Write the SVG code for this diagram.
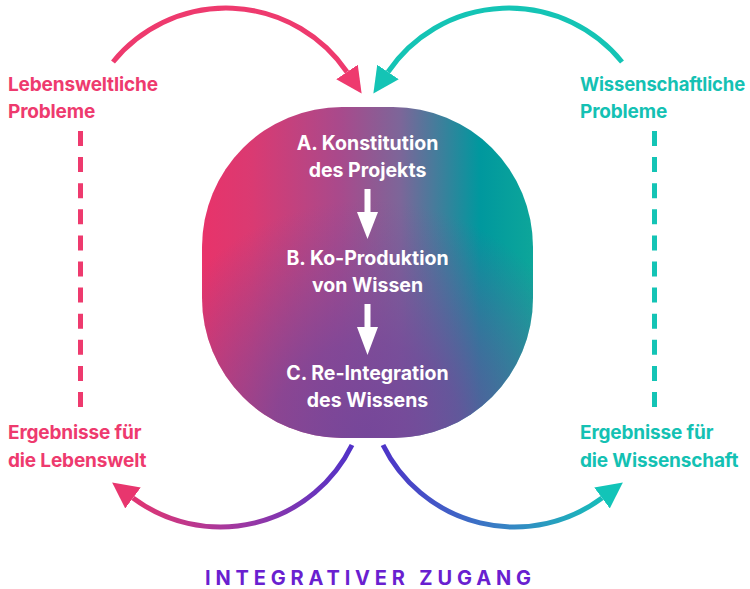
<svg xmlns="http://www.w3.org/2000/svg" width="750" height="589" viewBox="0 0 750 589">
<defs>
<style>
text{font-family:Inter,"Liberation Sans",sans-serif;font-weight:700;}
.lbl{font-size:19px;letter-spacing:-0.15px;}
.pink{fill:#ee3a6e;}
.teal{fill:#14c1b3;}
.ctr{font-size:19.5px;fill:#ffffff;text-anchor:middle;}
.arc{fill:none;stroke-width:5;}
.dash{fill:none;stroke-width:5;stroke-dasharray:15 11.1;}
</style>
<linearGradient id="gBase" x1="0" y1="0" x2="1" y2="0">
<stop offset="0" stop-color="#e8336a"/>
<stop offset="0.15" stop-color="#da3a72"/>
<stop offset="0.42" stop-color="#a84a8c"/>
<stop offset="0.6" stop-color="#7c6699"/>
<stop offset="0.84" stop-color="#00989e"/>
<stop offset="1" stop-color="#0da69a"/>
</linearGradient>
<radialGradient id="gGlow" cx="0.5" cy="1" r="0.72">
<stop offset="0" stop-color="#74469a" stop-opacity="0.95"/>
<stop offset="0.4" stop-color="#76479a" stop-opacity="0.75"/>
<stop offset="1" stop-color="#7a4a98" stop-opacity="0"/>
</radialGradient>
<linearGradient id="gLeft" gradientUnits="userSpaceOnUse" x1="120" y1="0" x2="352" y2="0">
<stop offset="0" stop-color="#e8356c"/>
<stop offset="0.45" stop-color="#a8389c"/>
<stop offset="1" stop-color="#5232c8"/>
</linearGradient>
<linearGradient id="gRight" gradientUnits="userSpaceOnUse" x1="383" y1="0" x2="615" y2="0">
<stop offset="0" stop-color="#4d34c8"/>
<stop offset="0.55" stop-color="#3586c4"/>
<stop offset="1" stop-color="#12c4b8"/>
</linearGradient>
<marker id="mPink" markerUnits="userSpaceOnUse" markerWidth="26" markerHeight="26" viewBox="0 0 26 26" refX="0" refY="13" orient="auto">
<path d="M0,0 L26,13 L0,26 Z" fill="#ee3a6e"/>
</marker>
<marker id="mTeal" markerUnits="userSpaceOnUse" markerWidth="26" markerHeight="26" viewBox="0 0 26 26" refX="0" refY="13" orient="auto">
<path d="M0,0 L26,13 L0,26 Z" fill="#14c4b5"/>
</marker>
<marker id="mPink2" markerUnits="userSpaceOnUse" markerWidth="26" markerHeight="26" viewBox="0 0 26 26" refX="0" refY="13" orient="auto">
<path d="M0,0 L26,13 L0,26 Z" fill="#e8366e"/>
</marker>
<marker id="mTeal2" markerUnits="userSpaceOnUse" markerWidth="26" markerHeight="26" viewBox="0 0 26 26" refX="0" refY="13" orient="auto">
<path d="M0,0 L26,13 L0,26 Z" fill="#12c4b8"/>
</marker>
</defs>

<g id="process">
<rect x="202" y="107" width="331" height="331" rx="140" ry="140" fill="url(#gBase)"/>
<rect x="202" y="107" width="331" height="331" rx="140" ry="140" fill="url(#gGlow)"/>
<text class="ctr" x="367.5" y="150">A. Konstitution</text>
<text class="ctr" x="367.5" y="177">des Projekts</text>
<text class="ctr" x="367.5" y="265">B. Ko-Produktion</text>
<text class="ctr" x="367.5" y="292">von Wissen</text>
<text class="ctr" x="367.5" y="380">C. Re-Integration</text>
<text class="ctr" x="367.5" y="407">des Wissens</text>
</g>

<g id="lebensweltliche-probleme">
<text class="lbl pink" x="8" y="91">Lebensweltliche</text>
<text class="lbl pink" x="8" y="118">Probleme</text>
</g>
<g id="wissenschaftliche-probleme">
<text class="lbl teal" x="580" y="91" textLength="165" lengthAdjust="spacingAndGlyphs">Wissenschaftliche</text>
<text class="lbl teal" x="580" y="118">Probleme</text>
</g>
<g id="ergebnisse-lebenswelt">
<text class="lbl pink" x="8" y="439">Ergebnisse für</text>
<text class="lbl pink" x="8" y="467">die Lebenswelt</text>
</g>
<g id="ergebnisse-wissenschaft">
<text class="lbl teal" x="580" y="439">Ergebnisse für</text>
<text class="lbl teal" x="580" y="467">die Wissenschaft</text>
</g>

<g id="connectors">
<path class="arc" stroke="#ee3a6e" d="M113,62 A146,146 0 0 1 347,72" marker-end="url(#mPink)"/>
<path class="arc" stroke="#14c4b5" d="M622,62 A146,146 0 0 0 388,72" marker-end="url(#mTeal)"/>
<path class="dash" stroke="#ee3a6e" d="M80.5,131 V408"/>
<path class="dash" stroke="#14c4b5" d="M654.5,131 V408"/>
<path class="arc" stroke="url(#gLeft)" d="M352,445 A146.5,146.5 0 0 1 133,498" marker-end="url(#mPink2)"/>
<path class="arc" stroke="url(#gRight)" d="M383,445 A146.5,146.5 0 0 0 602,498" marker-end="url(#mTeal2)"/>
<rect x="364.5" y="189" width="6" height="24" fill="#ffffff"/>
<polygon points="357,212 378,212 367.5,239" fill="#ffffff"/>
<rect x="364.5" y="304" width="6" height="24" fill="#ffffff"/>
<polygon points="357,327 378,327 367.5,355" fill="#ffffff"/>
</g>

<g id="title">
<text x="205" y="585" font-size="20" font-weight="800" fill="#6a1fd0" textLength="326" lengthAdjust="spacing">INTEGRATIVER ZUGANG</text>
</g>
</svg>
